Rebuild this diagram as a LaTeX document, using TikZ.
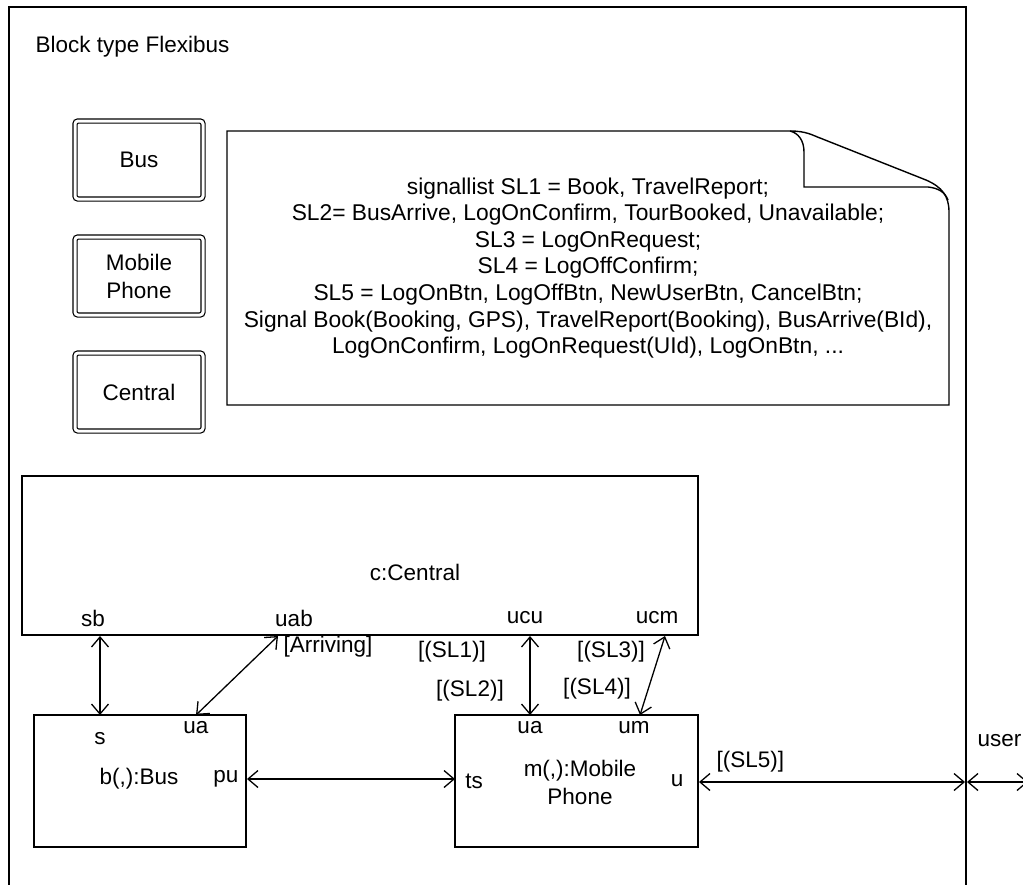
\documentclass[tikz,border=0pt]{standalone}
\usepackage{fontspec}
\setmainfont{Liberation Sans}
\usetikzlibrary{arrows.meta}
\begin{document}
\begin{tikzpicture}[x=1pt,y=-1pt,line width=1.4pt,
  font=\fontsize{22.5}{28}\selectfont,
  txt/.style={inner sep=0pt},
  typebox/.style={draw,double,double distance=3pt,line width=1.2pt,rounded corners=3pt,minimum width=128pt,minimum height=78pt,align=center,inner sep=0pt},
  blockbox/.style={draw,line width=1.4pt,inner sep=0pt},
  biarrow/.style={{Straight Barb[length=10pt,width=17pt]}-{Straight Barb[length=10pt,width=17pt]},line width=1.3pt}]
\useasboundingbox (0,0) rectangle (1023,884);
% outer frame
\draw (9,900) -- (9,7) -- (966,7) -- (966,900);
\node[txt,anchor=west] (title) at (35,47) {Block type Flexibus};
% block types
\node[typebox] (tBus) at (139,160) {Bus};
\node[typebox] (tMob) at (139,276) {Mobile\\Phone};
\node[typebox] (tCen) at (139,392) {Central};
% note
\draw (227,131) -- (790,131) .. controls (806,131) and (812,135) .. (820,138) -- (926,180) .. controls (942,187) and (949,196) .. (949,212) -- (949,405) -- (227,405) -- cycle;
\draw (790,131) .. controls (798,133) and (804,140) .. (804,152) -- (804,187) -- (928,187) .. controls (938,188) and (945,192) .. (948,200);
\node[txt,align=center,font=\fontsize{22.8}{26.6}\selectfont] (sigs) at (588,268) {signallist SL1 = Book, TravelReport;\\
SL2= BusArrive, LogOnConfirm, TourBooked, Unavailable;\\
SL3 = LogOnRequest;\\
SL4 = LogOffConfirm;\\
SL5 = LogOnBtn, LogOffBtn, NewUserBtn, CancelBtn;\\
Signal Book(Booking, GPS), TravelReport(Booking), BusArrive(BId),\\
LogOnConfirm, LogOnRequest(UId), LogOnBtn, ...};
% central
\node[blockbox,minimum width=676pt,minimum height=159pt] (cen) at (360,555.5) {};
\node[txt] (cenlab) at (415,572) {c:Central};
\node[txt] (sb) at (93,618) {sb};
\node[txt] (uab) at (294,618) {uab};
\node[txt] (ucu) at (525,618) {ucu};
\node[txt] (ucm) at (657,618) {ucm};
% bus
\node[blockbox,minimum width=212pt,minimum height=132pt] (bus) at (140,781) {};
\node[txt] (bs) at (100,739) {s};
\node[txt] (bua) at (196,728) {ua};
\node[txt] (buslab) at (139,779) {b(,):Bus};
\node[txt] (pu) at (226,779) {pu};
% mobile
\node[blockbox,minimum width=243pt,minimum height=132pt] (mob) at (576.5,781) {};
\node[txt] (mua) at (530,728) {ua};
\node[txt] (mum) at (634,728) {um};
\node[txt] (ts) at (474,781) {ts};
\node[txt,align=center] (moblab) at (580,782) {m(,):Mobile\\Phone};
\node[txt] (mu) at (677,781) {u};
% connector end points
\coordinate (sbE) at (100,636);
\coordinate (sE) at (100,715);
\coordinate (uabE) at (278,636);
\coordinate (buaE) at (196,715);
\coordinate (ucuE) at (530,636);
\coordinate (muaE) at (530,715);
\coordinate (ucmE) at (665,636);
\coordinate (mumE) at (640,715);
\coordinate (puE) at (247,779);
\coordinate (tsE) at (455,779);
\coordinate (uE) at (699,782);
\coordinate (frE) at (965,782);
\coordinate (frE2) at (967,782);
\coordinate (userE) at (1028,782);
% connectors
\draw[biarrow] (sbE) -- (sE);
\draw[biarrow] (uabE) -- (buaE);
\draw[biarrow] (ucuE) -- (muaE);
\draw[biarrow] (ucmE) -- (mumE);
\draw[biarrow] (puE) -- (tsE);
\draw[biarrow] (uE) -- (frE);
\draw[biarrow] (frE2) -- (userE);
% labels
\node[txt,anchor=west] (arr) at (283,647) {[Arriving]};
\node[txt] (sl1) at (452,652) {[(SL1)]};
\node[txt] (sl2) at (470,691) {[(SL2)]};
\node[txt] (sl3) at (611,652) {[(SL3)]};
\node[txt] (sl4) at (597,689) {[(SL4)]};
\node[txt,anchor=west] (sl5) at (716,762) {[(SL5)]};
\node[txt,anchor=west] (user) at (977,741) {user};
\end{tikzpicture}
\end{document}
